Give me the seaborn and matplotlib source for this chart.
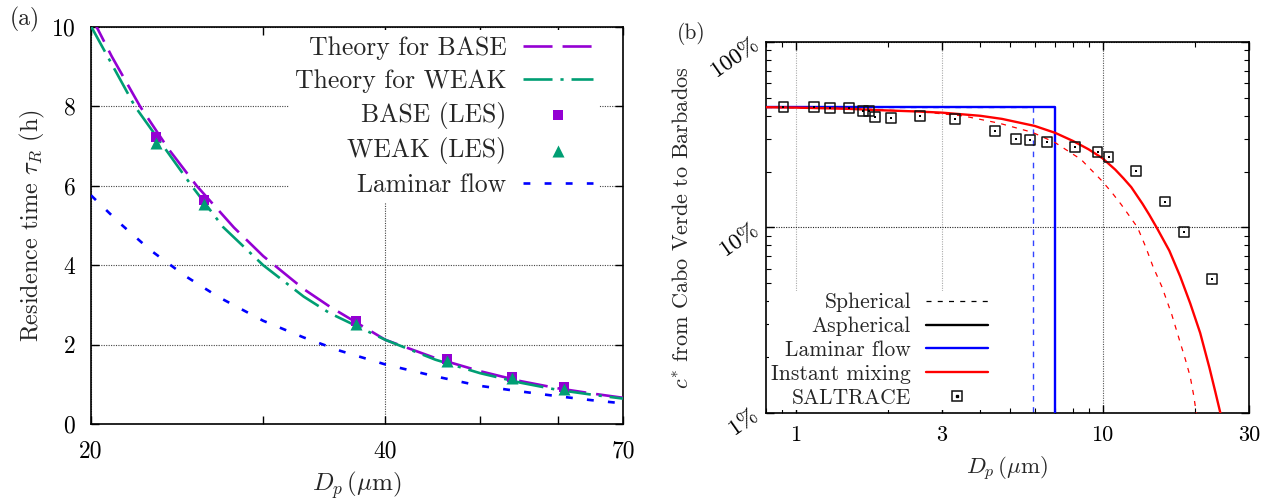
import matplotlib
matplotlib.use("Agg")
import matplotlib.pyplot as plt
import seaborn as sns
from matplotlib.ticker import FixedLocator, NullFormatter, FuncFormatter, LogLocator
from matplotlib.lines import Line2D
from matplotlib.legend_handler import HandlerTuple

# ---------------- Panel (a) data ----------------
base_theory_d = [20, 21, 22.45, 24, 25.65, 28, 30, 33, 35.1, 40, 45, 50, 55, 60, 65, 70]
base_theory_tau = [10.28, 9.26, 8.0, 6.93, 6.0, 4.95, 4.23, 3.40, 2.955, 2.12, 1.66, 1.33, 1.08, 0.90, 0.77, 0.66]
weak_theory_d = [20, 22.18, 25.35, 27.3, 30, 33, 35.1, 40, 45, 50, 55, 60, 65, 70]
weak_theory_tau = [10.02, 8.0, 6.0, 4.96, 4.0, 3.21, 2.79, 2.12, 1.62, 1.28, 1.04, 0.86, 0.74, 0.64]
laminar_d = [20, 21.4, 23, 25, 27, 30, 33, 36, 40, 45, 50, 55, 60, 65, 70]
laminar_tau = [5.76, 5.06, 4.38, 3.72, 3.20, 2.60, 2.18, 1.84, 1.50, 1.20, 0.96, 0.82, 0.70, 0.60, 0.52]
les_d = [23.33, 26.1, 37.35, 46.28, 53.94, 60.97]
les_base_tau = [7.23, 5.63, 2.60, 1.645, 1.18, 0.92]
les_weak_tau = [7.08, 5.53, 2.52, 1.595, 1.15, 0.89]
a_xticks = [20, 40, 70]
a_xminor = [30, 50, 60]
a_yticks = [0, 2, 4, 6, 8, 10]

# ---------------- Panel (b) data (percent) ----------------
sph_lam_d = [0.8, 5.93, 5.93]
sph_lam_c = [44.8, 44.8, 1.0]
asph_lam_d = [0.8, 7.01, 7.01]
asph_lam_c = [44.8, 44.8, 1.0]
asph_mix_d = [0.8, 1.0, 1.5, 1.8, 2.5, 3.0, 4.0, 4.7, 6.0, 7.0, 8.0, 9.0, 10, 11, 11.7, 12.4,
              13.5, 14.2, 15, 16.5, 17.9, 19.3, 20.8, 22.3, 23.3, 24.2]
asph_mix_c = [44.5, 44.3, 43.6, 43.0, 42.2, 41.6, 40.0, 38.5, 35.3, 32.4, 29.3, 26.4, 23.6, 20.5, 18.4, 16.5,
              13.4, 11.7, 10.0, 7.5, 5.45, 3.9, 2.7, 1.75, 1.3, 1.0]
sph_mix_d = [0.8, 1.5, 2.5, 3.5, 4.6, 5.9, 7.0, 8.5, 9.9, 10.7, 11.5, 12.2, 13.0, 13.8, 14.6,
             15.6, 16.8, 17.9, 18.6, 19.3, 19.8, 20.2]
sph_mix_c = [44.5, 43.8, 42.2, 40.0, 36.5, 32.6, 28.7, 23.3, 18.0, 15.5, 13.3, 11.6, 10.0, 7.9, 6.15,
             4.8, 3.4, 2.4, 1.95, 1.57, 1.25, 1.0]
saltrace_d = [0.912, 1.145, 1.297, 1.492, 1.657, 1.734, 1.81, 2.05, 2.54, 3.31, 4.45, 5.23,
              5.81, 6.58, 8.12, 9.63, 10.46, 12.84, 15.97, 18.37, 22.77]
saltrace_c = [44.6, 44.6, 44.2, 43.9, 42.6, 42.6, 39.6, 38.8, 39.9, 38.3, 33.1, 30.1,
              29.5, 28.9, 27.3, 25.4, 23.9, 20.2, 13.8, 9.5, 5.3]
b_xticks = [1, 3, 10, 30]
b_yticks = [1, 10, 100]

sns.set_style("ticks")
plt.rcParams['font.family'] = ['cmr10', 'DejaVu Serif']
plt.rcParams['mathtext.fontset'] = 'cm'
plt.rcParams['axes.unicode_minus'] = False
plt.rcParams['axes.formatter.use_mathtext'] = True

PURPLE = '#9400D3'
GREEN = '#009E73'
BLUE = '#0000FF'
RED = '#FF0000'

fig = plt.figure(figsize=(12.7, 5.04), dpi=100)
ax1 = fig.add_axes([91/1270, 1-424/504, (623-91)/1270, (424-27)/504])
ax2 = fig.add_axes([766/1270, 1-413/504, (1249-766)/1270, (413-42)/504])

# ---------------- Panel (a) ----------------
sns.lineplot(x=base_theory_d, y=base_theory_tau, ax=ax1, color=PURPLE, lw=1.9,
             linestyle=(0, (11, 3.8)), sort=False, estimator=None, label='Theory for BASE', zorder=3)
sns.lineplot(x=weak_theory_d, y=weak_theory_tau, ax=ax1, color=GREEN, lw=1.9,
             linestyle=(0, (11, 3, 1.2, 3)), sort=False, estimator=None, label='Theory for WEAK', zorder=3)
sns.scatterplot(x=les_d, y=les_base_tau, ax=ax1, color=PURPLE, marker='s', s=60,
                linewidth=0, label='BASE (LES)', zorder=4)
sns.scatterplot(x=les_d, y=les_weak_tau, ax=ax1, color=GREEN, marker='^', s=75,
                linewidth=0, label='WEAK (LES)', zorder=5)
sns.lineplot(x=laminar_d, y=laminar_tau, ax=ax1, color=BLUE, lw=1.9,
             linestyle=(0, (2.6, 5.4)), sort=False, estimator=None, label='Laminar flow', zorder=3)

ax1.set_xscale('log')
ax1.set_xlim(20, 70)
ax1.set_ylim(0, 10)
ax1.xaxis.set_major_locator(FixedLocator(a_xticks))
ax1.xaxis.set_minor_locator(FixedLocator(a_xminor))
ax1.xaxis.set_major_formatter(FuncFormatter(lambda v, p: f"{v:g}"))
ax1.xaxis.set_minor_formatter(NullFormatter())
ax1.yaxis.set_major_locator(FixedLocator(a_yticks))
ax1.tick_params(axis='both', which='both', direction='in', top=True, right=True,
                labelsize=17, colors='black')
ax1.tick_params(axis='both', which='major', length=6, width=1)
ax1.tick_params(axis='both', which='minor', length=6, width=1)
ax1.tick_params(axis='y', pad=11)
ax1.tick_params(axis='x', pad=12)
ax1.grid(True, which='major', color='#444444', linestyle=(0, (1, 1.2)), linewidth=0.8)
for s in ax1.spines.values():
    s.set_linewidth(1.2)
    s.set_color('black')
ax1.set_xlabel(r"$D_p\,(\mu{\rm m})$", fontsize=18, labelpad=5)
ax1.set_ylabel(r"Residence time $\tau_R$ (h)", fontsize=17.5, labelpad=3)

h, l = ax1.get_legend_handles_labels()
leg1 = ax1.legend(h, l, loc='upper right', bbox_to_anchor=(0.955, 0.992), markerfirst=False,
                  frameon=True, facecolor='white', edgecolor='none', framealpha=1,
                  fontsize=18.5, handlelength=2.7, handletextpad=0.65, labelspacing=0.34,
                  borderpad=0.25, borderaxespad=0, scatterpoints=1, fancybox=False)
leg1.set_zorder(10)

# ---------------- Panel (b) ----------------
sns.lineplot(x=sph_lam_d, y=sph_lam_c, ax=ax2, color='#3344FF', lw=1.0,
             linestyle=(0, (4, 4)), sort=False, estimator=None, zorder=2)
sns.lineplot(x=asph_lam_d, y=asph_lam_c, ax=ax2, color=BLUE, lw=1.7,
             sort=False, estimator=None, zorder=3)
sns.lineplot(x=sph_mix_d, y=sph_mix_c, ax=ax2, color=RED, lw=0.9,
             linestyle=(0, (4, 5)), sort=False, estimator=None, zorder=3)
sns.lineplot(x=asph_mix_d, y=asph_mix_c, ax=ax2, color=RED, lw=1.7,
             sort=False, estimator=None, zorder=4)
sns.scatterplot(x=saltrace_d, y=saltrace_c, ax=ax2, marker='s', s=50, facecolor='none',
                edgecolor='#111111', linewidth=1.1, zorder=5)
sns.scatterplot(x=saltrace_d, y=saltrace_c, ax=ax2, marker='s', s=2.5, color='black',
                linewidth=0, zorder=6)

ax2.set_xscale('log')
ax2.set_yscale('log')
ax2.set_xlim(0.8, 30)
ax2.set_ylim(1, 100)
ax2.xaxis.set_major_locator(FixedLocator(b_xticks))
ax2.xaxis.set_minor_locator(LogLocator(base=10, subs=(2, 4, 5, 6, 7, 8, 9)))
ax2.xaxis.set_major_formatter(FuncFormatter(lambda v, p: f"{v:g}"))
ax2.xaxis.set_minor_formatter(NullFormatter())
ax2.yaxis.set_major_locator(FixedLocator(b_yticks))
ax2.yaxis.set_minor_locator(LogLocator(base=10, subs=(2, 3, 4, 5, 6, 7, 8, 9)))
ax2.yaxis.set_major_formatter(FuncFormatter(lambda v, p: f"{v:g}%"))
ax2.yaxis.set_minor_formatter(NullFormatter())
ax2.tick_params(axis='x', which='both', direction='in', top=True, labelsize=16, colors='black')
ax2.tick_params(axis='y', which='both', direction='in', right=True, labelsize=16.5, colors='black')
ax2.tick_params(axis='both', which='major', length=6, width=1)
ax2.tick_params(axis='both', which='minor', length=3.5, width=0.8)
ax2.tick_params(axis='x', pad=9)
ax2.tick_params(axis='y', pad=7)
for lab in ax2.get_yticklabels():
    lab.set_rotation(35)
    lab.set_rotation_mode('anchor')
    lab.set_ha('right')
    lab.set_va('center')
ax2.grid(True, which='major', color='#222222', linestyle=(0, (1, 1.2)), linewidth=0.8)
for gl, v in zip(ax2.get_xgridlines(), b_xticks):
    if v < 10:
        gl.set_color('#aaaaaa')
    else:
        gl.set_color('#555555')
for s in ax2.spines.values():
    s.set_linewidth(1.2)
    s.set_color('black')
ax2.set_xlabel(r"$D_p\,(\mu{\rm m})$", fontsize=16.5, labelpad=7)
ax2.set_ylabel(r"$c^{*}$ from Cabo Verde to Barbados", fontsize=16, labelpad=10)

h_sph = Line2D([], [], color='black', lw=0.9, linestyle=(0, (4, 5)))
h_asph = Line2D([], [], color='black', lw=1.7)
h_lam = Line2D([], [], color=BLUE, lw=1.7)
h_mix = Line2D([], [], color=RED, lw=1.7)
h_box = Line2D([], [], color='#111111', marker='s', markersize=7, markerfacecolor='none',
               markeredgewidth=1.1, linestyle='none')
h_dot = Line2D([], [], color='black', marker='s', markersize=1.6, linestyle='none')
leg2 = ax2.legend([h_sph, h_asph, h_lam, h_mix, (h_box, h_dot)],
                  ['Spherical', 'Aspherical', 'Laminar flow', 'Instant mixing', 'SALTRACE'],
                  handler_map={tuple: HandlerTuple(ndivide=1)},
                  loc='upper right', bbox_to_anchor=(0.465, 0.33), markerfirst=False,
                  frameon=True, facecolor='white', edgecolor='none', framealpha=1,
                  fontsize=15.5, handlelength=2.9, handletextpad=0.7, labelspacing=0.2,
                  borderpad=0.1, borderaxespad=0, fancybox=False)
leg2.set_zorder(10)

fig.text(0.008, 0.962, '(a)', fontsize=17, ha='left', va='center')
fig.text(0.533, 0.933, '(b)', fontsize=15.5, ha='left', va='center')

fig.savefig('out.png', dpi=100)
